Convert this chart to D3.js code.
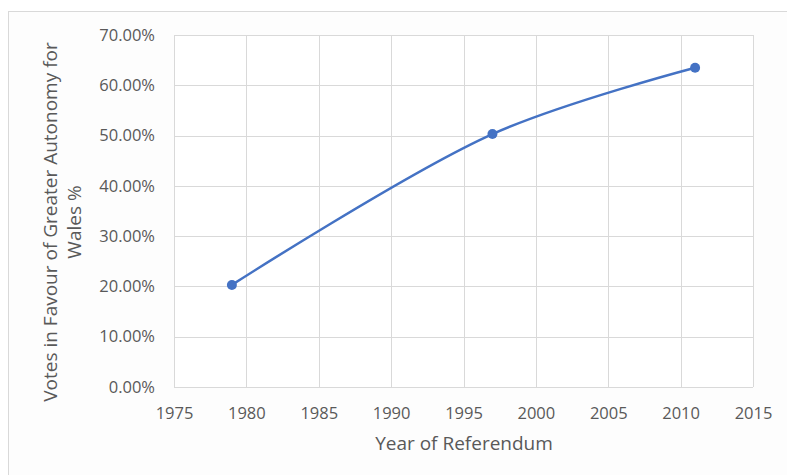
<!DOCTYPE html>
<html lang="en">
<head>
    <meta charset="UTF-8">
    <script src="https://d3js.org/d3.v7.min.js"></script>
    <title>Votes in Favour of Greater Autonomy for Wales</title>
    <style>
        body {
            margin: 0;
            padding: 0;
            background-color: white;
            font-family: "Open Sans", Arial, sans-serif;
        }
        svg text {
            fill: #595959;
        }
    </style>
</head>
<body>
    <svg id="chart" width="787" height="475"></svg>
    <script>
        // data
        const years = [1979, 1997, 2011];
        const votes = [0.203, 0.503, 0.635];
        const xTicks = [1975, 1980, 1985, 1990, 1995, 2000, 2005, 2010, 2015];
        const yTicks = [0, 0.1, 0.2, 0.3, 0.4, 0.5, 0.6, 0.7];

        const svg = d3.select("#chart");
        const margin = {left: 174, top: 35, right: 34, bottom: 88};
        const width = 787 - margin.left - margin.right;
        const height = 475 - margin.top - margin.bottom;

        // outer chart frame
        svg.append("rect")
            .attr("x", 8.5).attr("y", 11.5)
            .attr("width", 800).attr("height", 500)
            .attr("fill", "#fdfdfd")
            .attr("stroke", "#d9d9d9");

        const x = d3.scaleLinear().domain([1975, 2015]).range([0, width]);
        const y = d3.scaleLinear().domain([0, 0.7]).range([height, 0]);

        const g = svg.append("g")
            .attr("transform", `translate(${margin.left},${margin.top})`);

        g.append("rect")
            .attr("width", width).attr("height", height)
            .attr("fill", "white");

        // grid
        g.selectAll(".vgrid").data(xTicks).enter()
            .append("line")
            .attr("x1", d => Math.round(x(d)) + 0.5).attr("x2", d => Math.round(x(d)) + 0.5)
            .attr("y1", 0).attr("y2", height)
            .attr("stroke", "#d9d9d9");
        g.selectAll(".hgrid").data(yTicks).enter()
            .append("line")
            .attr("x1", 0).attr("x2", width)
            .attr("y1", d => Math.round(y(d)) + 0.5).attr("y2", d => Math.round(y(d)) + 0.5)
            .attr("stroke", "#d9d9d9");

        // axes
        const xAxis = d3.axisBottom(x).tickValues(xTicks).tickFormat(d3.format("d")).tickSize(0).tickPadding(20);
        const yAxis = d3.axisLeft(y).tickValues(yTicks).tickFormat(d3.format(".2%")).tickSize(0).tickPadding(19);

        g.append("g").attr("transform", `translate(0,${height})`).call(xAxis)
            .call(a => a.select(".domain").remove())
            .selectAll("text").attr("font-size", 16.5).attr("font-family", "Open Sans");
        g.append("g").call(yAxis)
            .call(a => a.select(".domain").remove())
            .selectAll("text").attr("font-size", 16.5).attr("font-family", "Open Sans");

        // the line, smoothed like the spreadsheet
        const pts = years.map((yr, i) => [yr, votes[i]]);
        const line = d3.line()
            .x(d => x(d[0]))
            .y(d => y(d[1]))
            .curve(d3.curveCatmullRom.alpha(0.5));

        g.append("path")
            .datum(pts)
            .attr("fill", "none")
            .attr("stroke", "#4472c4")
            .attr("stroke-width", 2.5)
            .attr("d", line);

        g.selectAll(".pt").data(pts).enter()
            .append("circle")
            .attr("cx", d => x(d[0]))
            .attr("cy", d => y(d[1]))
            .attr("r", 5)
            .attr("fill", "#4472c4");

        // axis titles
        svg.append("text")
            .attr("x", 464)
            .attr("y", 450)
            .attr("text-anchor", "middle")
            .attr("font-size", 19)
            .text("Year of Referendum");

        const yt = svg.append("text")
            .attr("transform", "translate(57,222) rotate(-90)")
            .attr("text-anchor", "middle")
            .attr("font-size", 19);
        yt.append("tspan").attr("x", 0).attr("dy", 0).text("Votes in Favour of Greater Autonomy for");
        yt.append("tspan").attr("x", 0).attr("dy", 24).text("Wales %");
    </script>
</body>
</html>
